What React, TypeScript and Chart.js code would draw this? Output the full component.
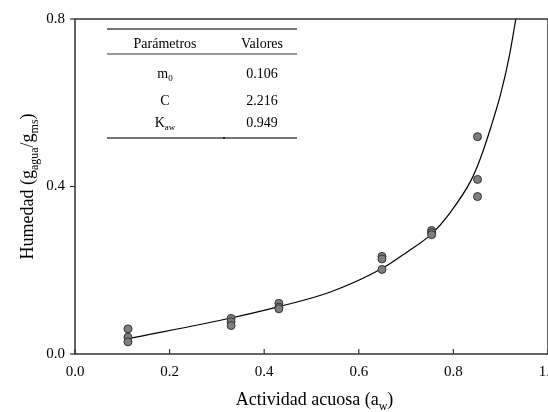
import React, { useEffect, useRef } from "react";
import { Chart, registerables } from "chart.js";

Chart.register(...registerables);

// Observed equilibrium moisture (three replicates per water activity)
const obsAw = [
  0.112, 0.112, 0.112,
  0.330, 0.330, 0.330,
  0.431, 0.431, 0.431,
  0.649, 0.649, 0.649,
  0.754, 0.754, 0.754,
  0.851, 0.851, 0.851,
];
const obsMoisture = [
  0.060, 0.040, 0.029,
  0.085, 0.077, 0.068,
  0.121, 0.112, 0.108,
  0.233, 0.227, 0.202,
  0.295, 0.290, 0.285,
  0.519, 0.417, 0.376,
];

// GAB fitted curve
const fitAw = [0.113, 0.330, 0.431, 0.540, 0.649, 0.700, 0.754, 0.794, 0.837, 0.858, 0.879, 0.900, 0.918, 0.932];
const fitMoisture = [0.037, 0.086, 0.113, 0.148, 0.204, 0.242, 0.287, 0.339, 0.414, 0.470, 0.541, 0.621, 0.710, 0.800];

const xTicks = [0, 0.2, 0.4, 0.6, 0.8, 1.0];
const yTicks = [0, 0.4, 0.8];

const paramHeader = ["Parámetros", "Valores"];
const paramNames: [string, string][] = [["m", "0"], ["C", ""], ["K", "aw"]];
const paramValues = ["0.106", "2.216", "0.949"];

const SERIF = '"Liberation Serif", "Times New Roman", serif';

type Part = { t: string; sub?: boolean };

function drawRich(
  ctx: CanvasRenderingContext2D,
  parts: Part[],
  cx: number,
  y: number,
  size: number,
  subSize: number,
  subDy: number
) {
  let total = 0;
  const widths = parts.map((p) => {
    ctx.font = `${p.sub ? subSize : size}px ${SERIF}`;
    const w = ctx.measureText(p.t).width;
    total += w;
    return w;
  });
  let x = cx - total / 2;
  ctx.textAlign = "left";
  ctx.textBaseline = "alphabetic";
  parts.forEach((p, i) => {
    ctx.font = `${p.sub ? subSize : size}px ${SERIF}`;
    ctx.fillText(p.t, x, p.sub ? y + subDy : y);
    x += widths[i];
  });
}

const decorPlugin = {
  id: "decor",
  afterDraw(chart: any) {
    const { ctx, chartArea } = chart;
    const { left, right, top, bottom } = chartArea;
    const xs = chart.scales.x;
    const ys = chart.scales.y;
    ctx.save();
    // frame
    ctx.strokeStyle = "#333";
    ctx.lineWidth = 1.5;
    ctx.strokeRect(left, top, right - left, bottom - top);
    // y ticks (outward)
    ctx.lineWidth = 1.2;
    yTicks.forEach((v) => {
      const p = ys.getPixelForValue(v);
      ctx.beginPath();
      ctx.moveTo(left - 5, p);
      ctx.lineTo(left, p);
      ctx.stroke();
    });
    // x ticks (inward)
    xTicks.forEach((v) => {
      const p = xs.getPixelForValue(v);
      ctx.beginPath();
      ctx.moveTo(p, bottom);
      ctx.lineTo(p, bottom - 5);
      ctx.stroke();
    });

    ctx.fillStyle = "#000";
    // x title
    drawRich(
      ctx,
      [{ t: "Actividad acuosa (a" }, { t: "w", sub: true }, { t: ")" }],
      (left + right) / 2 + 3,
      405,
      18,
      12,
      5
    );
    // y title
    ctx.save();
    ctx.translate(33, (top + bottom) / 2);
    ctx.rotate(-Math.PI / 2);
    drawRich(
      ctx,
      [
        { t: "Humedad (g" },
        { t: "agua", sub: true },
        { t: "/g" },
        { t: "ms", sub: true },
        { t: ")" },
      ],
      0,
      0,
      18,
      12,
      5
    );
    ctx.restore();

    // parameter table
    const tl = left + 32;
    const tr = left + 222;
    const c1 = left + 90;
    const c2 = left + 187;
    ctx.strokeStyle = "#777";
    ctx.lineWidth = 2;
    ctx.beginPath();
    ctx.moveTo(tl, top + 10);
    ctx.lineTo(tr, top + 10);
    ctx.stroke();
    ctx.lineWidth = 1.5;
    ctx.beginPath();
    ctx.moveTo(tl, top + 35);
    ctx.lineTo(tr, top + 35);
    ctx.stroke();
    ctx.lineWidth = 2;
    ctx.beginPath();
    ctx.moveTo(tl, top + 119);
    ctx.lineTo(tr, top + 119);
    ctx.stroke();
    ctx.fillStyle = "#222";
    ctx.fillRect(left + 148, top + 118, 2, 2);

    ctx.fillStyle = "#000";
    drawRich(ctx, [{ t: paramHeader[0] }], c1, top + 29, 14, 9, 3);
    drawRich(ctx, [{ t: paramHeader[1] }], c2, top + 29, 14, 9, 3);
    const rowY = [top + 59, top + 86, top + 108];
    paramNames.forEach(([main, sub], i) => {
      const parts: Part[] = [{ t: main }];
      if (sub) parts.push({ t: sub, sub: true });
      drawRich(ctx, parts, c1, rowY[i], 14, 9, 3);
      drawRich(ctx, [{ t: paramValues[i] }], c2, rowY[i], 14, 9, 3);
    });
    ctx.restore();
  },
};

export default function App() {
  const ref = useRef<HTMLCanvasElement | null>(null);
  useEffect(() => {
    document.body.style.margin = "0";
    const canvas = ref.current!;
    const chart = new Chart(canvas, {
      type: "scatter",
      data: {
        datasets: [
          {
            type: "line",
            label: "GAB",
            data: fitAw.map((x, i) => ({ x, y: fitMoisture[i] })),
            borderColor: "#000",
            borderWidth: 1.2,
            pointRadius: 0,
            fill: false,
            cubicInterpolationMode: "monotone",
            order: 2,
          } as any,
          {
            label: "Experimental",
            data: obsAw.map((x, i) => ({ x, y: obsMoisture[i] })),
            backgroundColor: "#7f7f7f",
            borderColor: "#333",
            borderWidth: 1,
            pointRadius: 4,
            order: 1,
          },
        ],
      },
      options: {
        responsive: false,
        animation: false,
        devicePixelRatio: 1,
        layout: { padding: { left: 0, top: 18, right: 32, bottom: 0 } },
        plugins: { legend: { display: false }, tooltip: { enabled: false } },
        scales: {
          x: {
            type: "linear",
            min: 0,
            max: 1,
            afterBuildTicks: (s: any) => {
              s.ticks = xTicks.map((v) => ({ value: v }));
            },
            afterFit: (s: any) => {
              s.height = 58;
            },
            grid: { display: false, drawTicks: false },
            border: { display: false },
            ticks: {
              padding: 9,
              color: "#000",
              font: { family: SERIF, size: 15 },
              maxRotation: 0,
              callback: (v: any) => Number(v).toFixed(1),
            },
          },
          y: {
            type: "linear",
            min: 0,
            max: 0.8,
            afterBuildTicks: (s: any) => {
              s.ticks = yTicks.map((v) => ({ value: v }));
            },
            afterFit: (s: any) => {
              s.width = 75;
            },
            grid: { display: false, drawTicks: false },
            border: { display: false },
            ticks: {
              padding: 10,
              color: "#000",
              font: { family: SERIF, size: 15 },
              callback: (v: any) => Number(v).toFixed(1),
            },
          },
        },
      },
      plugins: [decorPlugin],
    });
    return () => chart.destroy();
  }, []);
  return (
    <div
      style={{
        position: "fixed",
        left: 0,
        top: 0,
        width: 548,
        height: 412,
        overflow: "hidden",
        background: "#fff",
      }}
    >
      <canvas ref={ref} width={580} height={412} style={{ display: "block" }} />
    </div>
  );
}
